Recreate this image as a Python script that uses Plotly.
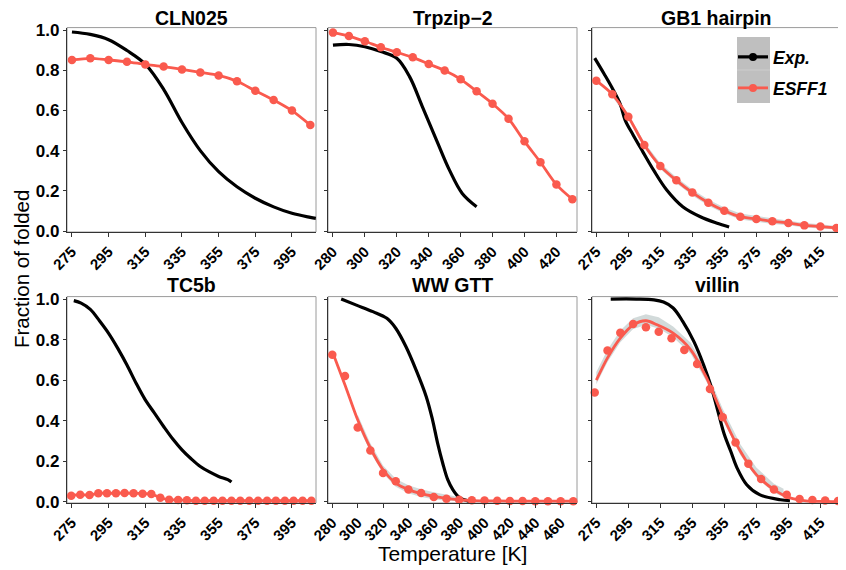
import plotly.graph_objects as go

# ---------------- data ----------------
titles = ["CLN025", "Trpzip\u22122", "GB1 hairpin", "TC5b", "WW GTT", "villin"]

# CLN025
cln_exp_T = [275, 285, 295, 305, 315, 325, 335, 345, 355, 365, 375, 385, 395, 405, 408]
cln_exp_f = [0.99, 0.978, 0.952, 0.898, 0.83, 0.705, 0.54, 0.40, 0.295, 0.22, 0.163, 0.12, 0.088, 0.068, 0.063]
cln_sim_T = [275, 285, 295, 305, 315, 325, 335, 345, 355, 365, 375, 385, 395, 405]
cln_sim_f = [0.851, 0.859, 0.851, 0.842, 0.829, 0.818, 0.804, 0.789, 0.774, 0.745, 0.698, 0.652, 0.599, 0.527]

# Trpzip-2
trp_exp_T = [280, 290, 300, 310, 320, 328, 336, 345, 353, 361, 370]
trp_exp_f = [0.925, 0.928, 0.917, 0.893, 0.859, 0.768, 0.619, 0.45, 0.303, 0.187, 0.121]
trp_sim_T = [280, 290, 300, 310, 320, 330, 340, 350, 360, 370, 380, 390, 400, 410, 420, 430]
trp_sim_f = [0.987, 0.970, 0.944, 0.914, 0.889, 0.864, 0.831, 0.798, 0.755, 0.695, 0.633, 0.559, 0.446, 0.342, 0.231, 0.158]

# GB1 hairpin
gb1_exp_T = [274, 280, 285, 290, 293, 298, 304, 311, 319, 329, 340, 350, 358]
gb1_exp_f = [0.86, 0.78, 0.71, 0.63, 0.552, 0.478, 0.395, 0.30, 0.204, 0.121, 0.071, 0.04, 0.02]
gb1_sim_T = [275, 285, 295, 305, 315, 325, 335, 345, 355, 365, 375, 385, 395, 405, 415, 425]
gb1_sim_f = [0.748, 0.680, 0.569, 0.428, 0.323, 0.252, 0.191, 0.141, 0.101, 0.071, 0.06, 0.048, 0.04, 0.028, 0.022, 0.015]
gb1_rib_T = [285, 295, 305, 315, 325, 335, 345, 355, 365, 375, 385, 395, 405, 415, 425]
gb1_rib_hi = [0.692, 0.582, 0.442, 0.337, 0.267, 0.206, 0.157, 0.117, 0.087, 0.075, 0.062, 0.053, 0.04, 0.033, 0.025]
gb1_rib_lo = [0.668, 0.557, 0.415, 0.309, 0.238, 0.177, 0.126, 0.087, 0.057, 0.046, 0.035, 0.028, 0.017, 0.012, 0.007]

# TC5b
tc5_exp_T = [276, 280, 285, 290, 295, 300, 305, 310, 315, 320, 325, 330, 335, 340, 345, 350, 355, 360, 362]
tc5_exp_f = [0.992, 0.98, 0.949, 0.893, 0.831, 0.757, 0.675, 0.585, 0.503, 0.438, 0.372, 0.31, 0.257, 0.213, 0.175, 0.148, 0.126, 0.11, 0.098]
tc5_sim_T = [274.6, 279.5, 284.6, 289.4, 294.1, 299.0, 303.7, 308.6, 313.5, 318.3, 323.2, 328.0, 332.9, 337.7,
             342.6, 347.4, 352.3, 357.1, 362.0, 366.8, 371.7, 376.5, 381.4, 386.2, 391.1, 395.9, 400.8, 405.6]
tc5_sim_f = [0.031, 0.036, 0.034, 0.043, 0.043, 0.043, 0.044, 0.043, 0.041, 0.039, 0.021, 0.011, 0.010, 0.008,
             0.006, 0.006, 0.006, 0.006, 0.006, 0.006, 0.006, 0.006, 0.006, 0.006, 0.006, 0.006, 0.006, 0.006]

# WW GTT
ww_exp_T = [287, 299, 312, 323, 330, 338, 346, 354, 359, 363, 367, 371, 375, 380, 388]
ww_exp_f = [1.0, 0.970, 0.938, 0.905, 0.856, 0.766, 0.651, 0.52, 0.405, 0.29, 0.192, 0.11, 0.061, 0.023, 0.003]
ww_sim_T = [280, 290, 300, 310, 320, 330, 340, 350, 360, 370, 380, 390, 400, 410, 420, 430, 440, 450, 460, 470]
ww_sim_f = [0.725, 0.621, 0.367, 0.254, 0.143, 0.102, 0.061, 0.044, 0.025, 0.016, 0.011, 0.008, 0.007, 0.006,
            0.005, 0.005, 0.004, 0.004, 0.004, 0.004]
ww_fit_T = [280, 290, 300, 310, 320, 330, 340, 350, 360, 370, 380, 390, 410, 440, 470]
ww_fit_f = [0.741, 0.577, 0.405, 0.266, 0.159, 0.093, 0.061, 0.041, 0.028, 0.018, 0.011, 0.007, 0.005, 0.004, 0.004]
ww_rib_T = [300, 310, 320, 330, 340, 350, 360, 370, 380, 390]
ww_rib_hi = [0.43, 0.29, 0.18, 0.115, 0.083, 0.063, 0.048, 0.035, 0.022, 0.012]
ww_rib_lo = [0.38, 0.245, 0.14, 0.075, 0.043, 0.025, 0.014, 0.006, 0.003, 0.002]

# villin
vil_exp_T = [284, 300, 311, 317, 323, 329, 336, 342, 347, 351, 355, 359, 363, 369, 377, 390, 396]
vil_exp_f = [1.0, 1.0, 0.996, 0.985, 0.956, 0.89, 0.79, 0.676, 0.562, 0.447, 0.332, 0.25, 0.167, 0.085, 0.036, 0.011, 0.006]
vil_sim_T = [274, 282, 290, 298, 306, 314, 322, 330, 338, 346, 354, 362, 370, 378, 386, 394, 402, 410, 418, 426]
vil_sim_f = [0.539, 0.746, 0.834, 0.877, 0.861, 0.839, 0.807, 0.749, 0.680, 0.557, 0.418, 0.293, 0.189, 0.113,
             0.061, 0.036, 0.015, 0.01, 0.007, 0.005]
vil_fit_T = [275, 282, 290, 298, 306, 313, 323, 334, 344, 354, 365, 375, 386, 396, 406, 416, 426]
vil_fit_f = [0.60, 0.71, 0.807, 0.872, 0.893, 0.873, 0.832, 0.75, 0.61, 0.425, 0.25, 0.135, 0.061, 0.02, 0.006, 0.003, 0.002]
vil_rib_T = [275, 282, 290, 298, 306, 314, 323, 334, 344, 354, 365, 375, 386, 392]
vil_rib_hi = [0.64, 0.75, 0.845, 0.905, 0.925, 0.91, 0.865, 0.785, 0.645, 0.46, 0.285, 0.17, 0.09, 0.065]
vil_rib_lo = [0.58, 0.69, 0.787, 0.852, 0.872, 0.855, 0.812, 0.73, 0.59, 0.405, 0.232, 0.12, 0.045, 0.025]

x_ticks = [
    [275, 295, 315, 335, 355, 375, 395],
    [280, 300, 320, 340, 360, 380, 400, 420],
    [275, 295, 315, 335, 355, 375, 395, 415],
    [275, 295, 315, 335, 355, 375, 395],
    [280, 300, 320, 340, 360, 380, 400, 420, 440, 460],
    [275, 295, 315, 335, 355, 375, 395, 415],
]
x_ranges = [[272.3, 408.1], [276.9, 432.9], [272.3, 427.9],
            [272.3, 408.1], [276.6, 472.9], [272.3, 427.9]]
y_ticks = [0.0, 0.2, 0.4, 0.6, 0.8, 1.0]

# ---------------- styling ----------------
RED = "#FA5A4E"
BLACK = "#000000"
RIB = "rgba(195,205,205,0.75)"
FONT = "Liberation Sans, Arial, sans-serif"
OFF = 8                      # page body margin of the browser
W, H = 846 - OFF, 570 - OFF


def px(xp):
    return (xp - OFF) / W


def py(yp):
    return 1 - (yp - OFF) / H


col_px = [(67, 316), (328, 577), (592, 841)]
row_px = [(27.6, 232.0), (296.6, 503.0)]

fig = go.Figure()


def ax(i):
    return ("x" if i == 0 else f"x{i+1}"), ("y" if i == 0 else f"y{i+1}")


def add_ribbon(i, T, lo, hi):
    xa, ya = ax(i)
    fig.add_trace(go.Scatter(x=list(T) + list(T)[::-1], y=list(hi) + list(lo)[::-1],
                             fill="toself", fillcolor=RIB, line=dict(width=0),
                             mode="lines", hoverinfo="skip", showlegend=False,
                             xaxis=xa, yaxis=ya))


def add_exp(i, T, f):
    xa, ya = ax(i)
    fig.add_trace(go.Scatter(x=T, y=f, mode="lines", line=dict(color=BLACK, width=3.2, shape="spline", smoothing=1.0),
                             showlegend=False, xaxis=xa, yaxis=ya))


def add_fit(i, T, f):
    xa, ya = ax(i)
    fig.add_trace(go.Scatter(x=T, y=f, mode="lines", line=dict(color=RED, width=2.8, shape="spline", smoothing=0.8),
                             showlegend=False, xaxis=xa, yaxis=ya))


def add_sim(i, T, f, with_line):
    xa, ya = ax(i)
    fig.add_trace(go.Scatter(x=T, y=f, mode="lines+markers" if with_line else "markers",
                             line=dict(color=RED, width=2.8, shape="spline", smoothing=0.8),
                             marker=dict(color=RED, size=8.5),
                             cliponaxis=False, showlegend=False, xaxis=xa, yaxis=ya))


# CLN025
add_exp(0, cln_exp_T, cln_exp_f)
add_sim(0, cln_sim_T, cln_sim_f, True)
# Trpzip-2
add_exp(1, trp_exp_T, trp_exp_f)
add_sim(1, trp_sim_T, trp_sim_f, True)
# GB1
add_ribbon(2, gb1_rib_T, gb1_rib_lo, gb1_rib_hi)
add_exp(2, gb1_exp_T, gb1_exp_f)
add_sim(2, gb1_sim_T, gb1_sim_f, True)
# TC5b
add_exp(3, tc5_exp_T, tc5_exp_f)
add_sim(3, tc5_sim_T, tc5_sim_f, True)
# WW GTT
add_ribbon(4, ww_rib_T, ww_rib_lo, ww_rib_hi)
add_exp(4, ww_exp_T, ww_exp_f)
add_fit(4, ww_fit_T, ww_fit_f)
add_sim(4, ww_sim_T, ww_sim_f, False)
# villin
add_ribbon(5, vil_rib_T, vil_rib_lo, vil_rib_hi)
add_exp(5, vil_exp_T, vil_exp_f)
add_fit(5, vil_fit_T, vil_fit_f)
add_sim(5, vil_sim_T, vil_sim_f, False)

# legend entries (no data drawn)
fig.add_trace(go.Scatter(x=[None], y=[None], mode="lines+markers", name="Exp.",
                         line=dict(color=BLACK, width=3.2), marker=dict(color=BLACK, size=8),
                         xaxis="x3", yaxis="y3", legend="legend"))
fig.add_trace(go.Scatter(x=[None], y=[None], mode="lines+markers", name="ESFF1",
                         line=dict(color=RED, width=2.8), marker=dict(color=RED, size=8),
                         xaxis="x3", yaxis="y3", legend="legend2"))

layout = dict(width=W, height=H, margin=dict(l=0, r=0, t=0, b=0, autoexpand=False),
              template="none",
              paper_bgcolor="white", plot_bgcolor="white", showlegend=True,
              font=dict(family=FONT, color="black"))

shapes = []
annotations = []
for i in range(6):
    r, c = divmod(i, 3)
    x0, x1 = col_px[c]
    y0, y1 = row_px[r]
    xk = "xaxis" if i == 0 else f"xaxis{i+1}"
    yk = "yaxis" if i == 0 else f"yaxis{i+1}"
    xa, ya = ax(i)
    layout[xk] = dict(domain=[px(x0), px(x1)], range=x_ranges[i], anchor=ya, automargin=False,
                      tickvals=x_ticks[i], tickangle=-45, showgrid=False, zeroline=False,
                      showline=True, linecolor="#333333", linewidth=1.3,
                      ticks="outside", ticklen=4, tickwidth=1, tickcolor="#333333",
                      tickfont=dict(family=FONT, size=15, color="black", weight="bold"))
    layout[yk] = dict(domain=[py(y1), py(y0)], range=[-0.005, 1.012], anchor=xa, automargin=False,
                      tickvals=y_ticks, tickformat=".1f", showgrid=False, zeroline=False,
                      showline=True, linecolor="#333333", linewidth=1.3,
                      ticks="outside", ticklen=3, tickwidth=1, tickcolor="#333333",
                      showticklabels=(c == 0),
                      tickfont=dict(family=FONT, size=17, color="black", weight="bold"))
    shapes.append(dict(type="rect", xref=f"{xa} domain", yref=f"{ya} domain",
                       x0=0, x1=1, y0=0, y1=1, line=dict(color="#9a9a9a", width=1),
                       fillcolor="rgba(0,0,0,0)", layer="below"))
    ty = 17.5 if r == 0 else 285
    annotations.append(dict(text=f"<b>{titles[i]}</b>", x=px((x0 + x1) / 2), y=py(ty),
                            xref="paper", yref="paper", xanchor="center", yanchor="middle",
                            showarrow=False, borderpad=0,
                            font=dict(family=FONT, size=19.5, color="black")))

# legend key background
shapes.append(dict(type="rect", xref="paper", yref="paper",
                   x0=px(737), x1=px(770), y0=py(103), y1=py(37),
                   fillcolor="#bfbfbf", line=dict(width=0), layer="above"))
shapes.append(dict(type="line", xref="paper", yref="paper",
                   x0=px(737), x1=px(770), y0=py(70), y1=py(70),
                   line=dict(color="#cdcdcd", width=1), layer="above"))

annotations.append(dict(text="Temperature [K]", x=px(452), y=py(553), xref="paper", yref="paper",
                        xanchor="center", yanchor="middle", showarrow=False,
                        font=dict(family=FONT, size=21, color="black")))
annotations.append(dict(text="Fraction of folded", x=px(21), y=py(269), xref="paper", yref="paper",
                        xanchor="center", yanchor="middle", showarrow=False, textangle=-90,
                        borderpad=0, font=dict(family=FONT, size=20.5, color="black")))

leg_font = dict(family=FONT, size=17.5, color="black", weight="bold", style="italic")
layout["legend"] = dict(x=px(733), y=py(57), xanchor="left", yanchor="middle",
                        bgcolor="rgba(0,0,0,0)", borderwidth=0, font=leg_font)
layout["legend2"] = dict(x=px(733), y=py(88), xanchor="left", yanchor="middle",
                         bgcolor="rgba(0,0,0,0)", borderwidth=0, font=leg_font)
layout["shapes"] = shapes
layout["annotations"] = annotations

fig.update_layout(**layout)
fig.write_html("out.html")
